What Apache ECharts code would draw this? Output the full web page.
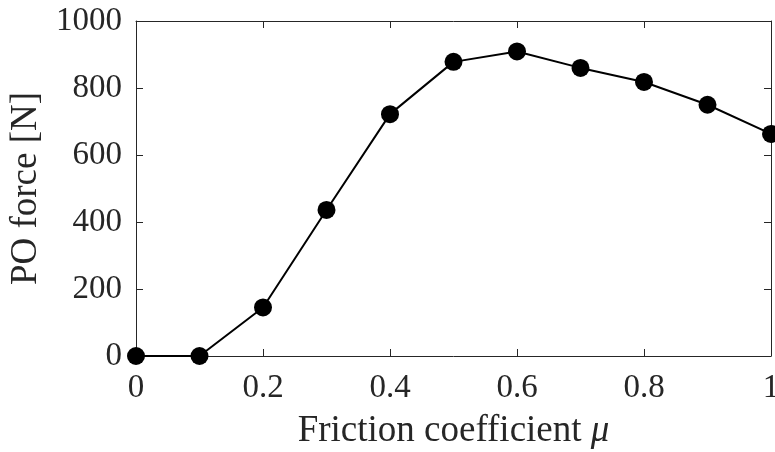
<!DOCTYPE html>
<html>
<head>
<meta charset="utf-8">
<script src="https://cdn.jsdelivr.net/npm/echarts@6/dist/echarts.min.js"></script>
<style>html,body{margin:0;padding:0;background:#fff;}#c{width:775px;height:452px;}</style>
</head>
<body>
<div id="c"></div>
<script>
const mu = [0, 0.1, 0.2, 0.3, 0.4, 0.5, 0.6, 0.7, 0.8, 0.9, 1.0];
const poForce = [0, 0, 145, 436, 722, 878, 909, 860, 818, 750, 663];
const xTicks = [0, 0.2, 0.4, 0.6, 0.8, 1];
const yTicks = [0, 200, 400, 600, 800, 1000];

const chart = echarts.init(document.getElementById('c'), null, {renderer: 'canvas'});
const font = 'Liberation Serif, Times New Roman, serif';
const axisLineStyle = {color: '#262626', width: 1};
const common = {
  axisLine: {show: true, onZero: false, lineStyle: axisLineStyle},
  axisTick: {show: true, inside: true, length: 7, lineStyle: axisLineStyle},
  splitLine: {show: false}
};
chart.setOption({
  backgroundColor: '#fff',
  animation: false,
  grid: {left: 136, right: 4, top: 21, bottom: 96, containLabel: false, outerBoundsMode: 'none'},
  xAxis: [
    Object.assign({
      type: 'value', min: 0, max: 1, interval: 0.2,
      name: 'Friction coefficient {i|μ}',
      nameLocation: 'middle', nameGap: 57,
      nameTextStyle: {fontFamily: font, fontSize: 37, color: '#262626',
        rich: {i: {fontFamily: font, fontStyle: 'italic', fontSize: 37, color: '#262626'}}},
      axisLabel: {fontFamily: font, fontSize: 33, color: '#262626', margin: 16,
        formatter: v => xTicks.includes(+v.toFixed(1)) ? String(+v.toFixed(1)) : ''}
    }, common),
    Object.assign({
      type: 'value', min: 0, max: 1, interval: 0.2, position: 'top',
      axisLabel: {show: false}
    }, common)
  ],
  yAxis: [
    Object.assign({
      type: 'value', min: 0, max: 1000, interval: 200,
      name: 'PO force [N]', nameLocation: 'middle', nameGap: 90,
      nameTextStyle: {fontFamily: font, fontSize: 37, color: '#262626'},
      axisLabel: {fontFamily: font, fontSize: 33, color: '#262626', margin: 14,
        formatter: v => yTicks.includes(v) ? String(v) : ''}
    }, common),
    Object.assign({
      type: 'value', min: 0, max: 1000, interval: 200, position: 'right',
      axisLabel: {show: false}
    }, common)
  ],
  series: [{
    type: 'line',
    data: mu.map((m, i) => [m, poForce[i]]),
    symbol: 'circle', symbolSize: 18,
    itemStyle: {color: '#000'},
    lineStyle: {color: '#000', width: 2},
    clip: false
  }]
});
</script>
</body>
</html>
